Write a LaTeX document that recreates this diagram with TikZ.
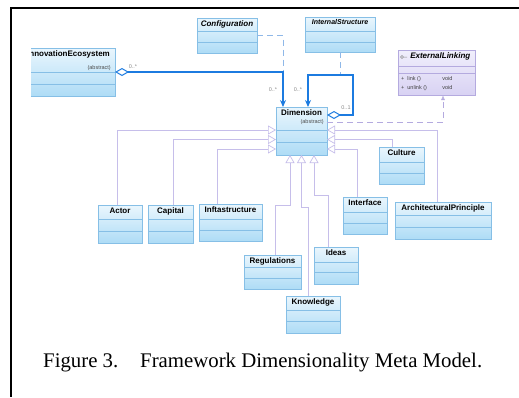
\documentclass[tikz,border=0pt]{standalone}
\usepackage{fontspec}
\usepackage{tikz}
\usetikzlibrary{arrows.meta}
\newfontfamily\umlfont{Liberation Sans}
\newfontfamily\capfont{Liberation Serif}
\definecolor{boxtop}{HTML}{EAF6FD}
\definecolor{boxbot}{HTML}{AEDCF6}
\definecolor{boxline}{HTML}{86BFE6}
\definecolor{ifacetop}{HTML}{F1EFFC}
\definecolor{ifacebot}{HTML}{D8D2F3}
\definecolor{ifaceline}{HTML}{B4AADF}
\definecolor{assocblue}{HTML}{1C7BE0}
\definecolor{assocdashc}{HTML}{8FB8E8}
\definecolor{genline}{HTML}{C6BEEA}
\definecolor{multgray}{HTML}{8A8A8A}

\tikzset{
  umlclass/.style={draw=boxline, line width=0.7pt, top color=boxtop, bottom color=boxbot,
    anchor=north west, inner sep=0pt, outer sep=0pt},
  umliface/.style={umlclass, draw=ifaceline, top color=ifacetop, bottom color=ifacebot},
  seps/.style 2 args={path picture={
    \draw[boxline, line width=0.7pt] ([yshift=-#1]path picture bounding box.north west)
      -- ([yshift=-#1]path picture bounding box.north east);
    \draw[boxline, line width=0.7pt] ([yshift=-#2]path picture bounding box.north west)
      -- ([yshift=-#2]path picture bounding box.north east);}},
  clstitle/.style={anchor=north, inner sep=2.5pt, font=\umlfont\bfseries\fontsize{8}{9}\selectfont},
  clsitalic/.style={clstitle, font=\umlfont\bfseries\itshape\fontsize{8}{9}\selectfont},
  abstr/.style={anchor=east, inner sep=0pt, text=black!70, font=\umlfont\fontsize{5.5}{6}\selectfont},
  mult/.style={inner sep=0pt, text=multgray, font=\umlfont\fontsize{5.5}{6}\selectfont},
  assoc/.style={draw=assocblue, line width=1.6pt,
    {Diamond[fill=white,length=14pt,width=8pt,line width=1pt]}-{Stealth[length=7pt,width=6pt]}},
  assocdash/.style={draw=assocdashc, line width=0.9pt, dash pattern=on 6pt off 4pt},
  realize/.style={draw=ifaceline, line width=0.9pt, dash pattern=on 6pt off 4pt,
    -{Latex[open,length=5pt,width=4pt]}},
  gen/.style={draw=genline, line width=0.7pt, -{Triangle[open,fill=white,length=8pt,width=9pt]}},
  caption/.style={inner sep=0pt, anchor=base west, font=\capfont\fontsize{20.8}{24}\selectfont}
}

\begin{document}
\begin{tikzpicture}[x=1pt, y=-1pt]
  \useasboundingbox (0,0) rectangle (519,397);
  \draw[line width=2.2pt] (519,8) -- (11,8) -- (11,397);

  % classes
  \begin{scope}
    \clip (31,0) rectangle (519,397);
    \node[umlclass, seps={24}{36}, minimum width=93, minimum height=48,
      label={[clstitle]north:InnovationEcosystem}] (innov) at (22,48) {};
    \node[abstr] (innovabs) at ([xshift=-4pt,yshift=-20pt]innov.north east) {(abstract)};
  \end{scope}
  \node[umlclass, seps={13}{24}, minimum width=60, minimum height=35,
    label={[clsitalic]north:Configuration}] (conf) at (197,18) {};
  \node[umlclass, seps={14}{25}, minimum width=70, minimum height=35,
    label={[clsitalic, font=\umlfont\bfseries\itshape\fontsize{7}{8}\selectfont]north:InternalStructure}] (intstruct) at (305,17) {};
  \node[umliface, minimum width=77, minimum height=45,
    path picture={
      \draw[ifaceline, line width=0.7pt] ([yshift=-16pt]path picture bounding box.north west)
        -- ([yshift=-16pt]path picture bounding box.north east);
      \draw[ifaceline, line width=0.7pt] ([yshift=-23pt]path picture bounding box.north west)
        -- ([yshift=-23pt]path picture bounding box.north east);},
    label={[clsitalic, anchor=north east, xshift=-2pt]north east:ExternalLinking}] (extlink) at (398,50) {};
  \draw[black!45, line width=0.5pt] (402,57) circle (1.5) (403.5,57) -- (407,57);
  \node[mult, anchor=west, text=black!75] (oplink) at (401,79) {+\hspace{3pt}\makebox[35pt][l]{link ()}void};
  \node[mult, anchor=west, text=black!75] (opunlink) at (401,88) {+\hspace{3pt}\makebox[35pt][l]{unlink ()}void};
  \node[umlclass, seps={23}{35}, minimum width=51, minimum height=48,
    label={[clstitle]north:Dimension}] (dim) at (276,107) {};
  \node[abstr] (dimabs) at ([xshift=-3pt,yshift=-15pt]dim.north east) {(abstract)};

  \node[umlclass, seps={14}{26}, minimum width=44, minimum height=38,
    label={[clstitle]north:Actor}] (actor) at (98,205) {};
  \node[umlclass, seps={14}{26}, minimum width=45, minimum height=38,
    label={[clstitle]north:Capital}] (capital) at (148,205) {};
  \node[umlclass, seps={15}{26}, minimum width=63, minimum height=37,
    label={[clstitle]north:Inftastructure}] (infra) at (199,204) {};
  \node[umlclass, seps={12}{23}, minimum width=57, minimum height=34,
    label={[clstitle]north:Regulations}] (reg) at (244,255) {};
  \node[umlclass, seps={15}{25}, minimum width=44, minimum height=37,
    label={[clstitle]north:Ideas}] (ideas) at (314,247) {};
  \node[umlclass, seps={14}{25}, minimum width=54, minimum height=37,
    label={[clstitle]north:Knowledge}] (know) at (286,296) {};
  \node[umlclass, seps={15}{26}, minimum width=44, minimum height=37,
    label={[clstitle]north:Interface}] (interface) at (343,197) {};
  \node[umlclass, seps={15}{26}, minimum width=45, minimum height=37,
    label={[clstitle]north:Culture}] (culture) at (379,147) {};
  \node[umlclass, seps={13}{25}, minimum width=96, minimum height=37,
    label={[clstitle]north:ArchitecturalPrinciple}] (arch) at (395,202) {};

  % associations
  \coordinate (confjoin) at (283,72);
  \coordinate (intjoin) at (340,75);
  \draw[assocdash] (conf.east) -| (confjoin);
  \draw[assocdash] (intstruct.south) -- (intjoin);
  \draw[assoc] (innov.east) -| ([xshift=-18.5pt]dim.north);
  \draw[assoc] ([yshift=16pt]dim.east) -| (353,75) -| ([xshift=6.5pt]dim.north);
  \node[mult] (multinnov) at (133,67) {0..*};
  \node[mult] (multconf) at (273,90) {0..*};
  \node[mult] (multint) at (298,90) {0..*};
  \node[mult] (multself) at (346,108) {0..1};
  \draw[realize] ([yshift=9pt]dim.east) -| ([xshift=6.5pt]extlink.south);

  % generalizations
  \draw[gen] ([xshift=-3pt]actor.north) |- ([yshift=1pt]dim.west);
  \draw[gen] ([xshift=2.5pt]capital.north) |- ([yshift=-8.5pt]dim.west);
  \draw[gen] ([xshift=-13.5pt]infra.north) |- ([yshift=-18pt]dim.west);
  \draw[gen] ([xshift=2.5pt]reg.north) |- (290,205) -- ([xshift=-11.5pt]dim.south);
  \draw[gen] ([xshift=-5pt]know.north) |- (301.5,207) -- (dim.south);
  \draw[gen] ([xshift=-8pt]ideas.north) |- (314,195) -- ([xshift=12.5pt]dim.south);
  \draw[gen] ([xshift=-6pt]arch.north) |- ([yshift=1pt]dim.east);
  \draw[gen] ([xshift=-9.5pt]culture.north) |- ([yshift=-8.5pt]dim.east);
  \draw[gen] ([xshift=-8pt]interface.north) |- ([yshift=-18pt]dim.east);

  \node[caption] (figno) at (43,367) {Figure 3.};
  \node[caption] (figtitle) at (140,367) {Framework Dimensionality Meta Model.};
\end{tikzpicture}
\end{document}
